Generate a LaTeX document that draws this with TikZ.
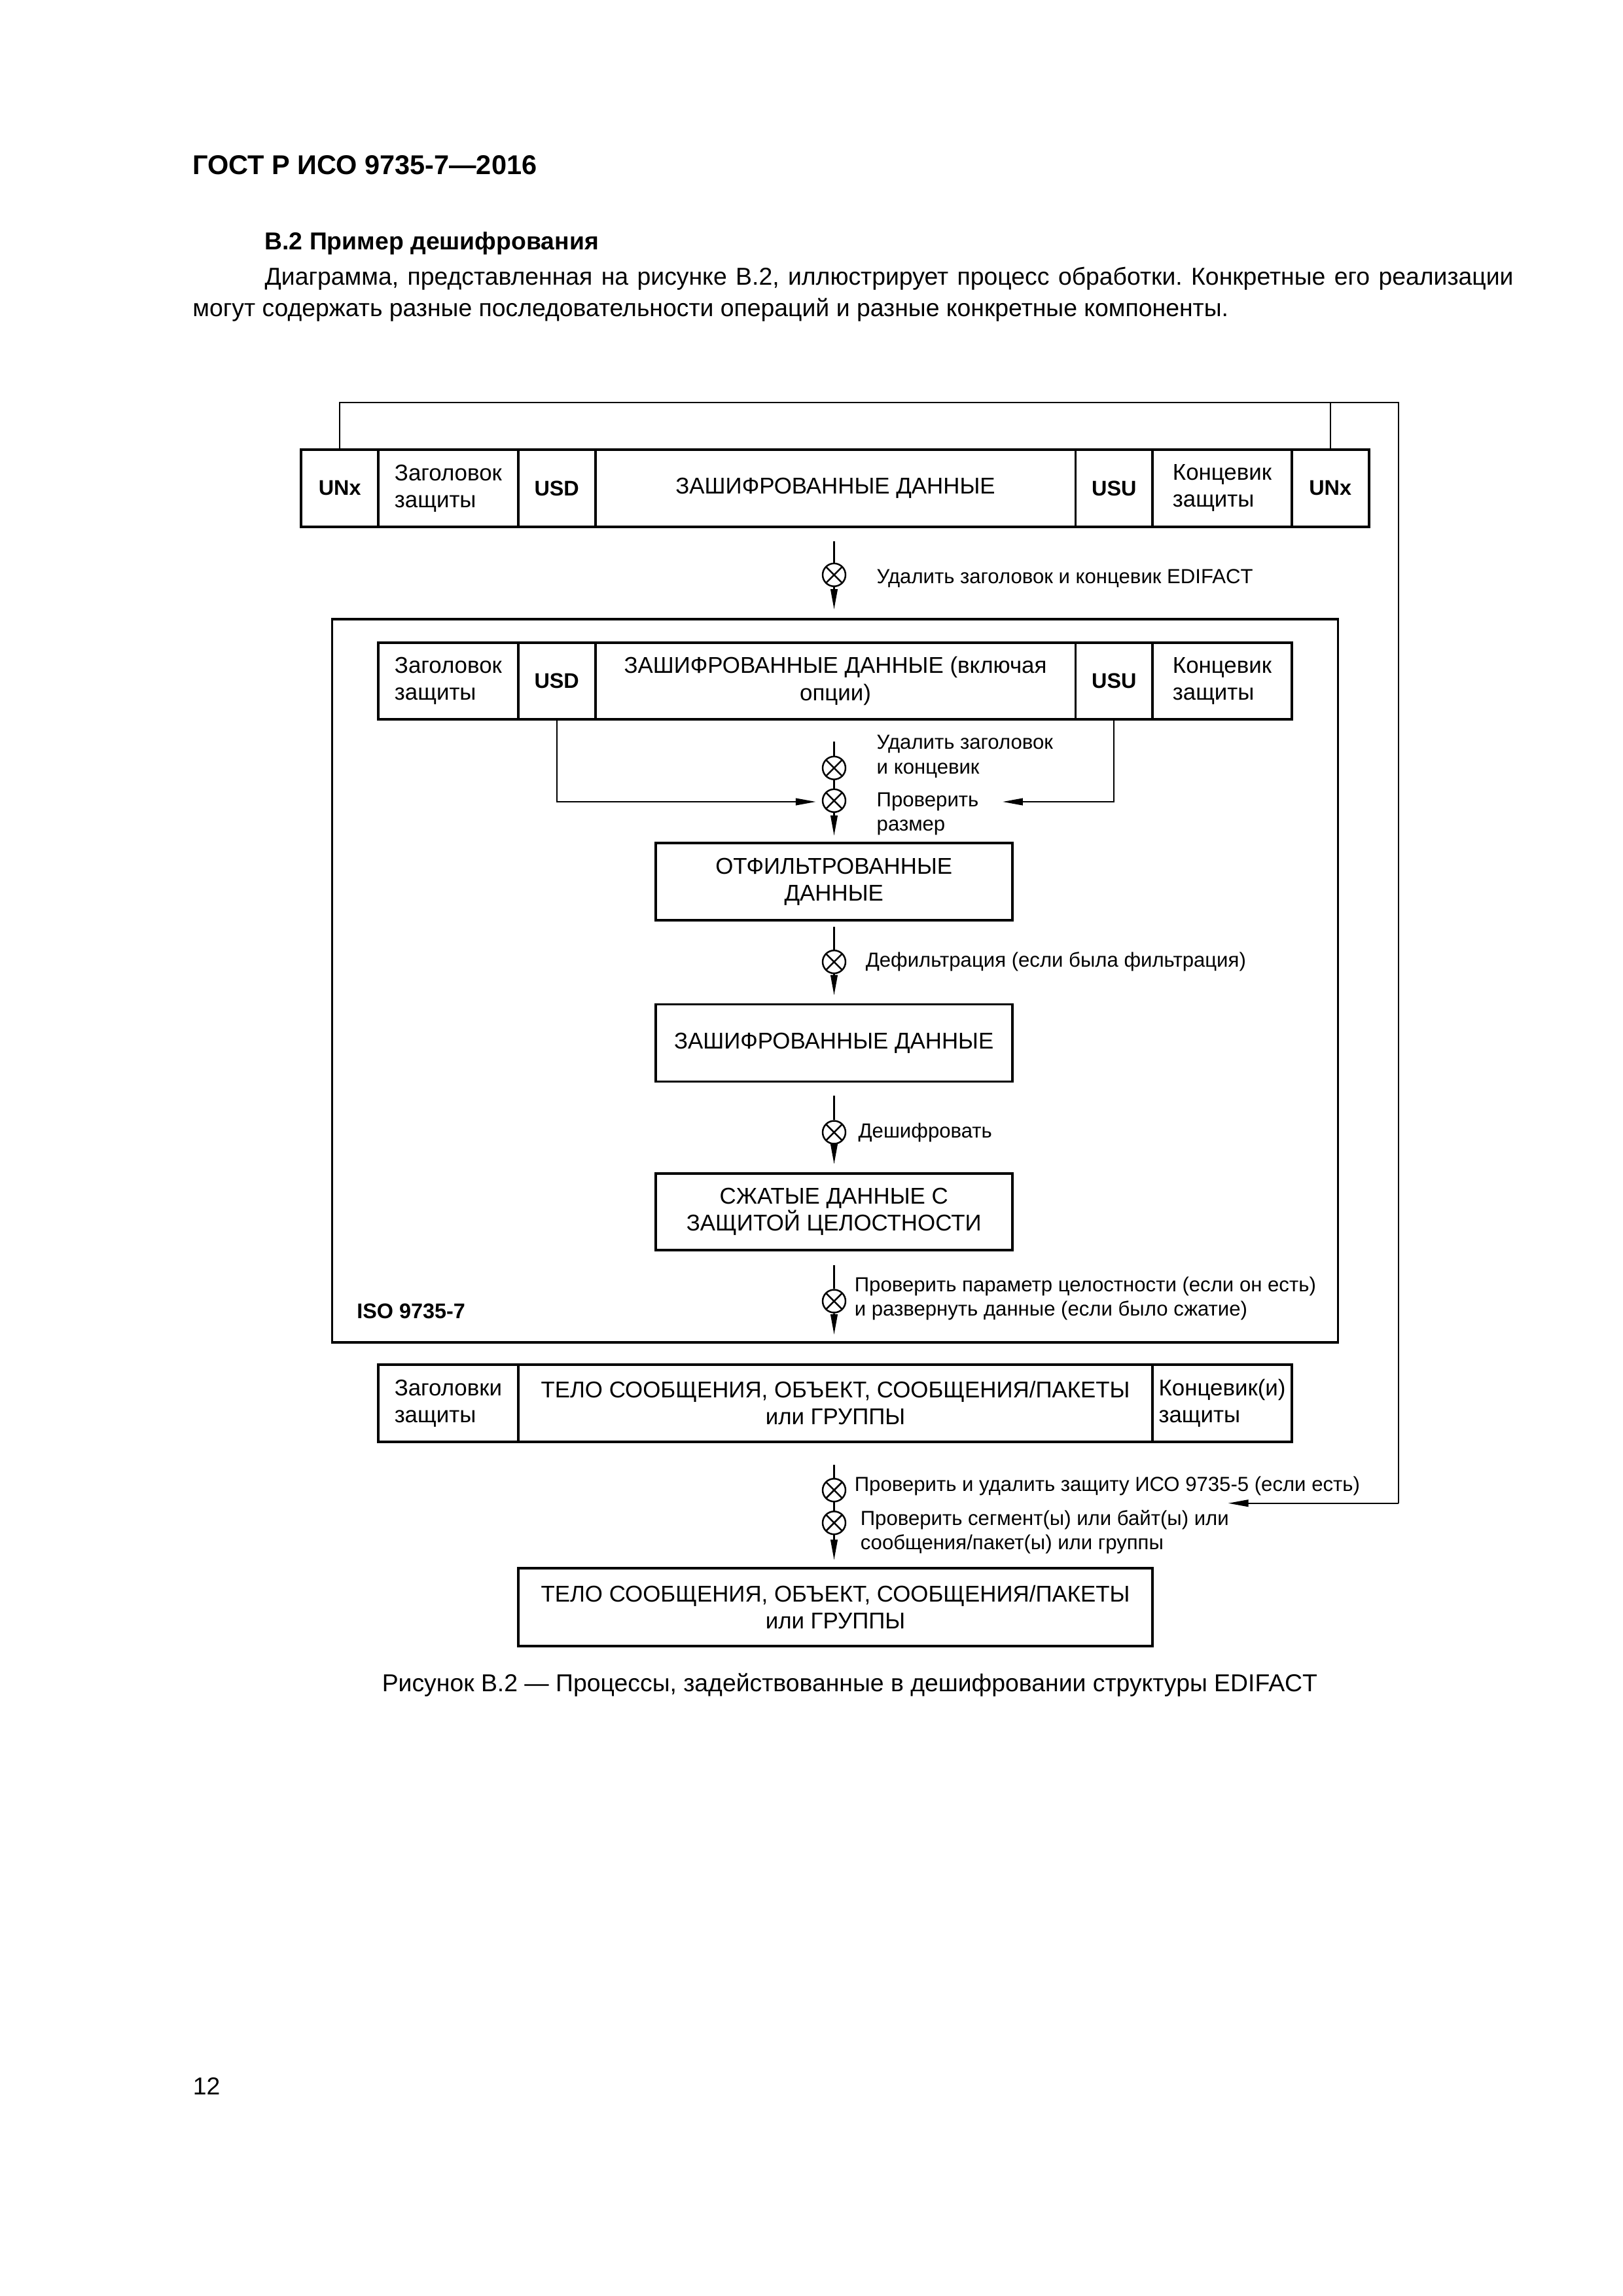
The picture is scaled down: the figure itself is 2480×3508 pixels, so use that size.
\documentclass[tikz,border=0pt]{standalone}
\usepackage{fontspec}
\setmainfont{Liberation Sans}
\usetikzlibrary{arrows.meta,fit}
\frenchspacing
\newdimen\pxu \pxu=0.240933pt
\tikzset{
  cellbox/.style={draw, line width=0.9pt, inner sep=0pt},
  ctext/.style={inner sep=0pt, align=center, font=\fontsize{8.4}{9.9}\selectfont},
  ctextL/.style={ctext, align=left},
  btext/.style={inner sep=0pt, font=\bfseries\fontsize{7.8}{9}\selectfont},
  lbl/.style={anchor=west, inner sep=0pt, align=left, font=\fontsize{7.5}{9}\selectfont},
  page/.style={inner sep=0pt, font=\fontsize{9}{11}\selectfont},
  xop/.style={circle, draw, line width=0.6pt, minimum size=2.96mm, inner sep=0pt,
    path picture={\draw[line width=0.6pt] (path picture bounding box.north west) -- (path picture bounding box.south east)
      (path picture bounding box.north east) -- (path picture bounding box.south west);}},
  conn/.style={line width=0.5pt},
  needle/.style={conn, -{Triangle[length=2.62mm, width=0.9mm]}},
}
% name, x1, x2, y1, y2, text style, text
\newcommand\cellat[7]{%
  \node[cellbox, fit={(#2,#4) (#3,#5)}] (#1) {};
  \node[#6] (#1-t) at (#1.center) {#7};}
\begin{document}
\begin{tikzpicture}[x=0.240933pt, y=-0.240933pt]
\useasboundingbox (0,0) rectangle (2480,3508);
\fill[white] (0,0) rectangle (2480,3508);

% page text
\node[page, anchor=base west, font=\bfseries\fontsize{10}{12}\selectfont] (title) at (293.5,266.7) {ГОСТ Р ИСО 9735-7—2016};
\node[page, anchor=base west, font=\bfseries\fontsize{9}{11}\selectfont] (sec) at (403.8,381.7) {В.2 Пример дешифрования};
\node[page, anchor=base west] (par1) at (403.8,435) {\makebox[1908\pxu][s]{Диаграмма, представленная на рисунке В.2, иллюстрирует процесс обработки. Конкретные его реализации}};
\node[page, anchor=base west] (par2) at (293.5,483.3) {могут содержать разные последовательности операций и разные конкретные компоненты.};
\node[page, anchor=base] (caption) at (1298.4,2584) {Рисунок В.2 — Процессы, задействованные в дешифровании структуры EDIFACT};
\node[page, anchor=base west] (pnum) at (294,3200) {12};

% row 1
\cellat{unxL}{460.2}{578.2}{686.7}{805}{btext}{UNx}
\cellat{hdr1}{578.2}{791.7}{686.7}{805}{ctextL}{Заголовок\\защиты}
\cellat{usd1}{791.7}{909.7}{686.7}{805}{btext}{USD}
\cellat{enc1}{909.7}{1643.4}{686.7}{805}{ctext}{ЗАШИФРОВАННЫЕ ДАННЫЕ}
\cellat{usu1}{1643.4}{1761.3}{686.7}{805}{btext}{USU}
\cellat{trl1}{1761.3}{1973.7}{686.7}{805}{ctextL}{Концевик\\защиты}
\cellat{unxR}{1973.7}{2091.7}{686.7}{805}{btext}{UNx}

% feedback loop
\coordinate (fbTR) at (2137,615);
\coordinate (fbBR) at (2137,2296.7);
\coordinate (fbTip) at (1876.7,2296.7);
\draw[conn] (unxL.north) |- (fbTR) -- (fbBR);
\draw[needle] (fbBR) -- (fbTip);
\draw[conn] (unxR.north) -- (unxR.north |- fbTR);

% step 1
\coordinate (s1) at (1274.5,826.7);
\node[xop] (c1) at (1274.5,878.3) {};
\coordinate (t1) at (1274.5,931);
\draw[conn] (s1) -- (c1.north);
\draw[needle] (c1.south) -- (t1);
\node[lbl] (l1) at (1338.9,883.3) {Удалить заголовок и концевик EDIFACT};

% ISO 9735-7 container
\node[cellbox, fit={(507.4,945.7) (2044.5,2050.8)}] (iso) {};
\node[anchor=west, inner sep=0pt, font=\bfseries\fontsize{7.8}{9}\selectfont] (isolbl) at (544.5,2003.3) {ISO 9735-7};

% row 2
\cellat{hdr2}{578.2}{791.7}{981.7}{1099.3}{ctextL}{Заголовок\\защиты}
\cellat{usd2}{791.7}{909.7}{981.7}{1099.3}{btext}{USD}
\cellat{enc2}{909.7}{1643.4}{981.7}{1099.3}{ctext}{ЗАШИФРОВАННЫЕ ДАННЫЕ (включая\\опции)}
\cellat{usu2}{1643.4}{1761.3}{981.7}{1099.3}{btext}{USU}
\cellat{trl2}{1761.3}{1973.7}{981.7}{1099.3}{ctextL}{Концевик\\защиты}

% step 2
\coordinate (s2) at (1274.5,1133.3);
\node[xop] (c2) at (1274.5,1173.3) {};
\node[xop] (c3) at (1274.5,1223.3) {};
\coordinate (t3) at (1274.5,1276.7);
\draw[conn] (s2) -- (c2.north);
\draw[conn] (c2.south) -- (c3.north);
\draw[needle] (c3.south) -- (t3);
\coordinate (tipL) at (1246.7,1225);
\coordinate (tipR) at (1532,1225);
\draw[needle] (usd2.south) |- (tipL);
\draw[needle] (usu2.south) |- (tipR);
\node[lbl] (l2) at (1338.9,1155.8) {Удалить заголовок\\и концевик};
\node[lbl] (l3) at (1338.9,1243.4) {Проверить\\размер};

% box 1
\cellat{filt}{1001.8}{1546.7}{1288.3}{1405.7}{ctext}{ОТФИЛЬТРОВАННЫЕ\\ДАННЫЕ}
\coordinate (s4) at (1274.5,1415.9);
\node[xop] (c4) at (1274.5,1469.6) {};
\coordinate (t4) at (1274.5,1520.6);
\draw[conn] (s4) -- (c4.north);
\draw[needle] (c4.south) -- (t4);
\node[lbl] (l4) at (1322,1469.6) {Дефильтрация (если была фильтрация)};

% box 2
\cellat{enc3}{1001.8}{1546.7}{1534.4}{1652.4}{ctext}{ЗАШИФРОВАННЫЕ ДАННЫЕ}
\coordinate (s5) at (1274.5,1673.9);
\node[xop] (c5) at (1274.5,1730) {};
\coordinate (t5) at (1274.5,1778.6);
\draw[conn] (s5) -- (c5.north);
\draw[needle] (c5.south) -- (t5);
\node[lbl] (l5) at (1310.8,1730) {Дешифровать};

% box 3
\cellat{comp}{1001.8}{1546.7}{1792.9}{1910.3}{ctext}{СЖАТЫЕ ДАННЫЕ С\\ЗАЩИТОЙ ЦЕЛОСТНОСТИ}
\coordinate (s6) at (1274.5,1933.3);
\node[xop] (c6) at (1274.5,1988) {};
\coordinate (t6) at (1274.5,2039);
\draw[conn] (s6) -- (c6.north);
\draw[needle] (c6.south) -- (t6);
\node[lbl] (l6) at (1305,1984.2) {Проверить параметр целостности (если он есть)\\и развернуть данные (если было сжатие)};

% row 3
\cellat{hdr3}{578.2}{791.7}{2085}{2202.7}{ctextL}{Заголовки\\защиты}
\cellat{body3}{791.7}{1761.3}{2085}{2202.7}{ctext}{ТЕЛО СООБЩЕНИЯ, ОБЪЕКТ, СООБЩЕНИЯ/ПАКЕТЫ\\или ГРУППЫ}
\cellat{trl3}{1761.3}{1973.7}{2085}{2202.7}{ctextL}{Концевик(и)\\защиты}

% final steps
\coordinate (s7) at (1274.5,2238.3);
\node[xop] (c7) at (1274.5,2276.7) {};
\node[xop] (c8) at (1274.5,2326.7) {};
\coordinate (t8) at (1274.5,2383.3);
\draw[conn] (s7) -- (c7.north);
\draw[conn] (c7.south) -- (c8.north);
\draw[needle] (c8.south) -- (t8);
\node[lbl] (l7) at (1305,2270) {Проверить и удалить защиту ИСО 9735-5 (если есть)};
\node[lbl] (l8) at (1314,2340.8) {Проверить сегмент(ы) или байт(ы) или\\сообщения/пакет(ы) или группы};

% box 4
\cellat{body4}{791.7}{1761.3}{2396}{2515}{ctext}{ТЕЛО СООБЩЕНИЯ, ОБЪЕКТ, СООБЩЕНИЯ/ПАКЕТЫ\\или ГРУППЫ}
\end{tikzpicture}
\end{document}
